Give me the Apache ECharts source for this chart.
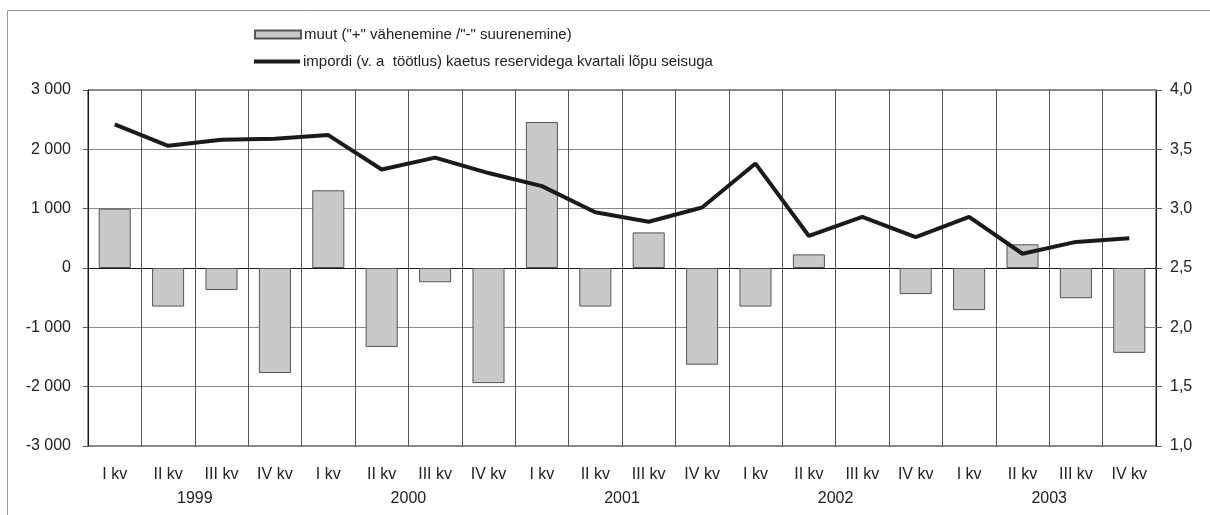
<!DOCTYPE html>
<html>
<head>
<meta charset="utf-8">
<script src="https://cdn.jsdelivr.net/npm/echarts@6/dist/echarts.min.js"></script>
<style>
  html, body { margin: 0; padding: 0; background: #fff; }
  #chart { width: 1210px; height: 515px; }
</style>
</head>
<body>
<div id="chart"></div>
<script>
// categories: quarters and years
const quarters = ['I kv', 'II kv', 'III kv', 'IV kv', 'I kv', 'II kv', 'III kv', 'IV kv',
  'I kv', 'II kv', 'III kv', 'IV kv', 'I kv', 'II kv', 'III kv', 'IV kv',
  'I kv', 'II kv', 'III kv', 'IV kv'];
const years = ['1999', '2000', '2001', '2002', '2003'];

// series names
const barName = 'muut ("+" vähenemine /"-" suurenemine)';
const lineName = 'impordi (v. a  töötlus) kaetus reservidega kvartali lõpu seisuga';

// muut (vasak telg), 2002 III kv has no bar
const changeValues = [1000, -650, -370, -1770, 1310, -1330, -240, -1940, 2460, -650,
  600, -1630, -650, 230, null, -440, -710, 400, -510, -1430];
// kaetus (parem telg)
const coverageValues = [3.71, 3.53, 3.58, 3.59, 3.62, 3.33, 3.43, 3.30, 3.19, 2.97,
  2.89, 3.01, 3.38, 2.77, 2.93, 2.76, 2.93, 2.62, 2.72, 2.75];

const font = 'Liberation Sans';
const textColor = '#222';
const axisFont = 16;

const chart = echarts.init(document.getElementById('chart'));

const legendText = { fontFamily: font, fontSize: 15, color: textColor, padding: [0, 0, 0, -2] };

const option = {
  animation: false,
  textStyle: { fontFamily: font },
  // outer frame (only left and top visible)
  graphic: [{
    type: 'rect',
    shape: { x: 7.5, y: 10.5, width: 1400, height: 700 },
    style: { fill: 'none', stroke: '#999', lineWidth: 1 },
    silent: true
  }],
  // two legends so each icon can have its own height
  legend: [
    {
      left: 249,
      top: 22,
      itemWidth: 46,
      itemHeight: 8,
      textStyle: legendText,
      data: [{ name: barName, icon: 'rect' }]
    },
    {
      left: 249,
      top: 49,
      itemWidth: 46,
      itemHeight: 4,
      textStyle: legendText,
      data: [{ name: lineName, icon: 'rect', itemStyle: { color: '#1a1a1a', borderWidth: 0 } }]
    }
  ],
  grid: {
    left: 88,
    right: 54,
    top: 90,
    bottom: 69,
    show: true,
    borderColor: '#1a1a1a',
    borderWidth: 1
  },
  xAxis: [
    {
      type: 'category',
      data: quarters,
      boundaryGap: true,
      axisLine: { lineStyle: { color: '#1a1a1a' } },
      axisTick: { show: false },
      axisLabel: { interval: 0, margin: 21, fontSize: axisFont, color: textColor, fontFamily: font },
      splitLine: { show: true, interval: 0, lineStyle: { color: '#555', width: 1 } }
    },
    {
      type: 'category',
      data: years,
      position: 'bottom',
      offset: 24,
      boundaryGap: true,
      axisLine: { show: false },
      axisTick: { show: false },
      axisLabel: { interval: 0, margin: 21, fontSize: axisFont, color: textColor, fontFamily: font },
      splitLine: { show: false }
    }
  ],
  yAxis: [
    {
      type: 'value',
      min: -3000,
      max: 3000,
      interval: 1000,
      axisLine: { show: true, lineStyle: { color: '#1a1a1a' } },
      axisTick: { show: true, length: 5, lineStyle: { color: '#555' } },
      axisLabel: {
        margin: 17,
        fontSize: axisFont,
        color: textColor,
        fontFamily: font,
        formatter: v => (v < 0 ? '-' : '') + Math.abs(v).toString().replace(/\B(?=(\d{3})+(?!\d))/g, ' ')
      },
      splitLine: { show: true, lineStyle: { color: '#888', width: 1 } }
    },
    {
      type: 'value',
      min: 1,
      max: 4,
      interval: 0.5,
      position: 'right',
      axisLine: { show: true, lineStyle: { color: '#1a1a1a' } },
      axisTick: { show: true, length: 6, lineStyle: { color: '#555' } },
      axisLabel: {
        margin: 14,
        fontSize: axisFont,
        color: textColor,
        fontFamily: font,
        formatter: v => v.toFixed(1).replace('.', ',')
      },
      splitLine: { show: false }
    }
  ],
  series: [
    {
      name: barName,
      type: 'bar',
      xAxisIndex: 0,
      yAxisIndex: 0,
      data: changeValues,
      barWidth: '60%',
      itemStyle: { color: '#c8c9cb', borderColor: '#555', borderWidth: 1 }
    },
    {
      name: lineName,
      type: 'line',
      xAxisIndex: 0,
      yAxisIndex: 1,
      data: coverageValues,
      symbol: 'none',
      lineStyle: { color: '#1a1a1a', width: 4 },
      itemStyle: { color: '#1a1a1a' },
      z: 5
    }
  ]
};

chart.setOption(option);
</script>
</body>
</html>
